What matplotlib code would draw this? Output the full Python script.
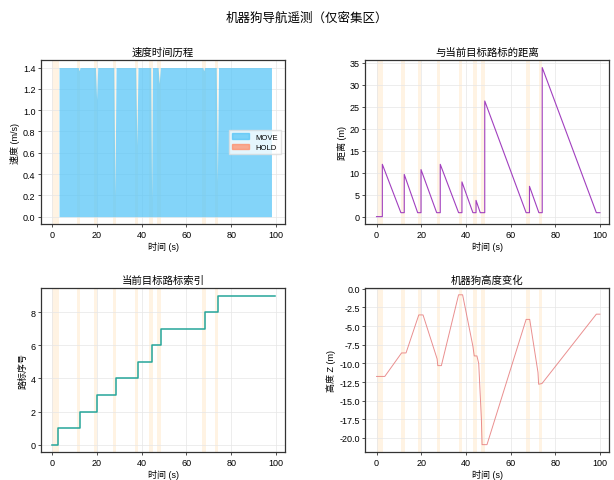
import numpy as np
import matplotlib
matplotlib.use("Agg")
import matplotlib.pyplot as plt
from matplotlib.patches import Patch

plt.rcParams['font.family'] = ['Liberation Sans', 'Noto Sans CJK SC', 'DejaVu Sans']
plt.rcParams['axes.unicode_minus'] = False

# hold windows (s)
hold_spans = [(0.0, 2.8), (11.0, 12.6), (18.6, 20.0), (27.0, 28.6), (36.8, 38.4),
              (43.2, 44.8), (46.6, 48.6), (67.0, 68.5), (72.6, 74.2)]

# speed
t_speed = [0, 2.9, 3.0, 11.6, 12.0, 12.4, 19.3, 19.8, 20.3, 27.5, 28.0, 28.5,
           37.3, 37.8, 38.3, 44.0, 44.4, 44.8, 47.3, 47.8, 48.3, 67.3, 67.7, 68.1,
           73.3, 73.8, 74.3, 98.0]
v_speed = [0, 0, 1.4, 1.4, 1.37, 1.4, 1.4, 1.1, 1.4, 1.4, 0.2, 1.4,
           1.4, 0.67, 1.4, 1.4, 0.17, 1.4, 1.4, 1.25, 1.4, 1.4, 1.37, 1.4,
           1.4, 0.33, 1.4, 1.4]

# distance to current waypoint
t_dist = [0, 2.6, 2.6, 10.9, 12.4, 12.4, 18.4, 19.9, 19.9, 26.9, 28.5, 28.5,
          36.7, 38.2, 38.2, 43.1, 44.5, 44.5, 46.4, 48.4, 48.4, 66.9, 68.4, 68.4,
          72.6, 74.1, 74.1, 98.3, 99.9]
d_dist = [0, 0, 11.9, 0.9, 0.9, 9.6, 0.9, 0.9, 10.7, 0.9, 0.9, 11.9,
          0.9, 0.9, 7.9, 0.9, 0.9, 3.7, 0.9, 0.9, 26.3, 0.9, 0.9, 6.9,
          0.9, 0.9, 33.9, 0.9, 0.9]

# waypoint index
t_wp = [0, 2.7, 12.4, 19.9, 28.4, 38.2, 44.7, 48.4, 68.3, 74.0, 99.6]
wp_idx = [0, 1, 2, 3, 4, 5, 6, 7, 8, 9, 9]

# altitude
t_z = [0, 3.7, 11.2, 13.2, 18.9, 20.8, 27.1, 27.4, 29.0, 36.7, 38.5, 43.1, 43.7,
       44.9, 45.7, 46.9, 47.2, 49.4, 66.9, 68.5, 72.2, 72.5, 74.0, 98.3, 99.9]
z = [-11.75, -11.75, -8.6, -8.6, -3.5, -3.5, -9.4, -10.3, -10.3, -0.8, -0.8, -7.7, -9.0,
     -9.0, -10.0, -17.5, -20.9, -20.9, -4.1, -4.1, -11.2, -12.8, -12.7, -3.4, -3.4]

span_color = '#ffcc80'
edge = '#333333'

fig, axes = plt.subplots(2, 2, figsize=(6.14, 4.81), dpi=100)
fig.subplots_adjust(left=0.067, right=0.992, top=0.873, bottom=0.058, wspace=0.33, hspace=0.39)
fig.suptitle('机器狗导航遥测（仅密集区）', fontsize=9, y=0.975)


def style(ax, title, ylabel):
    for a, b in hold_spans:
        ax.axvspan(a, b, color=span_color, alpha=0.22, lw=0, zorder=0)
    ax.set_title(title, fontsize=7.5, pad=4)
    ax.set_xlabel('时间 (s)', fontsize=6.5, labelpad=1.5)
    ax.set_ylabel(ylabel, fontsize=6.5, labelpad=2)
    ax.tick_params(labelsize=6.5, length=2.5, width=0.6, color=edge, pad=1.5)
    ax.grid(True, color='#e6e6e6', lw=0.5)
    ax.set_axisbelow(True)
    for s in ax.spines.values():
        s.set_color(edge)
        s.set_linewidth(0.9)
    ax.set_xlim(-5, 104)
    ax.set_xticks([0, 20, 40, 60, 80, 100])


ax = axes[0, 0]
style(ax, '速度时间历程', '速度 (m/s)')
tt = np.array(t_speed)
ax.fill_between(t_speed, 0, v_speed, where=tt >= 3.0, color='#4fc3f7', alpha=0.7, lw=0, zorder=2)
ax.set_ylim(-0.07, 1.47)
ax.legend(handles=[Patch(color='#4fc3f7', alpha=0.7, label='MOVE'),
                   Patch(color='#ff8a65', alpha=0.7, label='HOLD')],
          loc='center right', fontsize=5.5, frameon=True, fancybox=False,
          edgecolor='#dddddd', handlelength=2.2, borderpad=0.4, labelspacing=0.4)

ax = axes[0, 1]
style(ax, '与当前目标路标的距离', '距离 (m)')
ax.plot(t_dist, d_dist, color='#a13fbf', lw=0.8, zorder=2)
ax.set_ylim(-1.7, 35.6)

ax = axes[1, 0]
style(ax, '当前目标路标索引', '路标序号')
ax.plot(t_wp, wp_idx, drawstyle='steps-post', color='#26a69a', lw=1.1, zorder=2)
ax.set_ylim(-0.45, 9.45)
ax.set_yticks([0, 2, 4, 6, 8])

ax = axes[1, 1]
style(ax, '机器狗高度变化', '高度 Z (m)')
ax.plot(t_z, z, color='#e57373', lw=0.7, alpha=0.8, zorder=2)
ax.set_ylim(-21.9, 0.1)
ax.set_yticks(np.arange(-20, 0.1, 2.5))

fig.savefig('out.png', dpi=100)
